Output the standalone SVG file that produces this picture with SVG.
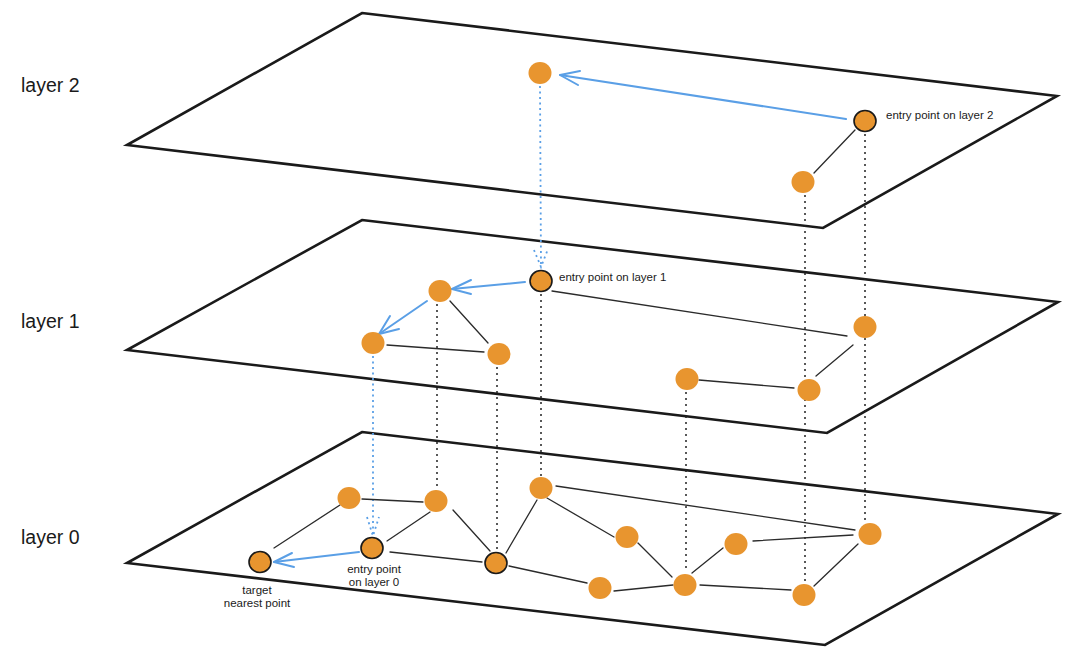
<svg xmlns="http://www.w3.org/2000/svg" width="1080" height="666" viewBox="0 0 1080 666">
<style>
.plane{fill:none;stroke:#1a1a1a;stroke-width:2.6;stroke-linejoin:miter}
.edge{stroke:#2b2b2b;stroke-width:1.3;fill:none;stroke-linecap:round}
.dot{stroke:#222;stroke-width:1.5;stroke-dasharray:2 4;fill:none}
.bdot{stroke:#5a9fe6;stroke-width:1.8;stroke-dasharray:2 3.5;fill:none}
.blue{stroke:#5a9fe6;stroke-width:2;fill:none;stroke-linecap:round;stroke-linejoin:round}
.n{fill:#e8952f}
.ns{fill:#e8952f;stroke:#1a1a1a;stroke-width:1.6}
.big{font-family:"Liberation Sans",Arial,sans-serif;font-size:19.5px;fill:#1a1a1a}
.sm{font-family:"Liberation Sans",Arial,sans-serif;font-size:11.5px;fill:#1a1a1a}
</style>
<rect width="1080" height="666" fill="#ffffff"/>

<g id="planes">
<polygon class="plane" points="362,13 1057,96 823,228 127,145"/>
<polygon class="plane" points="362,220 1058,302 827,433 127,350"/>
<polygon class="plane" points="362,432 1058,514 825,645 127,563"/>
</g>

<g id="labels">
<text class="big" x="21" y="92">layer 2</text>
<text class="big" x="21" y="328">layer 1</text>
<text class="big" x="21" y="544">layer 0</text>
</g>

<g id="connectors">
<line class="dot" x1="805" y1="195" x2="805" y2="583"/>
<line class="dot" x1="865" y1="134" x2="865" y2="522"/>
<line class="dot" x1="541" y1="294" x2="541" y2="476"/>
<line class="dot" x1="437" y1="304" x2="437" y2="488"/>
<line class="dot" x1="497" y1="367" x2="497" y2="550"/>
<line class="dot" x1="686" y1="392" x2="686" y2="572"/>
<line class="bdot" x1="540" y1="86" x2="541" y2="266"/>
<polyline class="bdot" points="534,250 541,267 548,249"/>
<line class="bdot" x1="373" y1="356" x2="373" y2="536"/>
<polyline class="bdot" points="367,517 373,536 379,517"/>
<line class="edge" x1="855" y1="130" x2="814" y2="173"/>
<line class="blue" x1="846" y1="119" x2="560" y2="75"/>
<polyline class="blue" points="580,71 560,75 578,85"/>
<line class="edge" x1="552" y1="291" x2="847" y2="336"/>
<line class="edge" x1="853" y1="345" x2="816" y2="376"/>
<line class="edge" x1="699" y1="380" x2="794" y2="388"/>
<line class="edge" x1="450" y1="301" x2="488" y2="343"/>
<line class="edge" x1="387" y1="345" x2="484" y2="352"/>
<line class="blue" x1="525" y1="282" x2="452" y2="289"/>
<polyline class="blue" points="471,280 452,289 471,294"/>
<line class="blue" x1="427" y1="301" x2="379" y2="334"/>
<polyline class="blue" points="390,316 379,334 399,329"/>
<line class="edge" x1="274" y1="548" x2="340" y2="505"/>
<line class="edge" x1="362" y1="499" x2="423" y2="502"/>
<line class="edge" x1="387" y1="541" x2="430" y2="512"/>
<line class="edge" x1="390" y1="552" x2="482" y2="562"/>
<line class="edge" x1="453" y1="510" x2="490" y2="551"/>
<line class="edge" x1="506" y1="553" x2="537" y2="500"/>
<line class="edge" x1="509" y1="566" x2="587" y2="583"/>
<line class="edge" x1="547" y1="498" x2="614" y2="537"/>
<line class="edge" x1="556" y1="486" x2="855" y2="530"/>
<line class="edge" x1="638" y1="543" x2="672" y2="577"/>
<line class="edge" x1="614" y1="591" x2="673" y2="585"/>
<line class="edge" x1="692" y1="573" x2="723" y2="548"/>
<line class="edge" x1="753" y1="541" x2="853" y2="535"/>
<line class="edge" x1="700" y1="585" x2="791" y2="590"/>
<line class="edge" x1="858" y1="544" x2="814" y2="586"/>
<line class="blue" x1="359" y1="552" x2="274" y2="562"/>
<polyline class="blue" points="292,553 274,562 294,567"/>
</g>

<g id="layer2-nodes">
<g id="n2a"><ellipse class="n" cx="540" cy="73" rx="11.5" ry="11"/></g>
<g id="n2entry"><ellipse class="ns" cx="865" cy="121" rx="11" ry="10.5"/>
<text class="sm" x="886" y="119">entry point on layer 2</text></g>
<g id="n2c"><ellipse class="n" cx="803" cy="182" rx="11.5" ry="11"/></g>
</g>

<g id="layer1-nodes">
<g id="n1entry"><ellipse class="ns" cx="541" cy="281" rx="11" ry="10.5"/>
<text class="sm" x="559" y="281">entry point on layer 1</text></g>
<g id="n1b"><ellipse class="n" cx="440" cy="291" rx="11.5" ry="11"/></g>
<g id="n1c"><ellipse class="n" cx="373" cy="343" rx="11.5" ry="11"/></g>
<g id="n1d"><ellipse class="n" cx="499" cy="354" rx="11.5" ry="11"/></g>
<g id="n1f"><ellipse class="n" cx="865" cy="327" rx="11.5" ry="11"/></g>
<g id="n1g"><ellipse class="n" cx="687" cy="379" rx="11.5" ry="11"/></g>
<g id="n1h"><ellipse class="n" cx="809" cy="390" rx="11.5" ry="11"/></g>
</g>

<g id="layer0-nodes">
<g id="n0target"><ellipse class="ns" cx="260" cy="562" rx="11" ry="10.5"/>
<text class="sm" text-anchor="middle" x="257" y="594">target</text>
<text class="sm" text-anchor="middle" x="257" y="607">nearest point</text></g>
<g id="n0entry"><ellipse class="ns" cx="372" cy="548" rx="11" ry="10.5"/>
<text class="sm" text-anchor="middle" x="374" y="573">entry point</text>
<text class="sm" text-anchor="middle" x="374" y="586">on layer 0</text></g>
<g id="n0a"><ellipse class="n" cx="349" cy="498" rx="11.5" ry="11"/></g>
<g id="n0b"><ellipse class="n" cx="436" cy="501" rx="11.5" ry="11"/></g>
<g id="n0c"><ellipse class="ns" cx="496" cy="563" rx="11" ry="10.5"/></g>
<g id="n0d"><ellipse class="n" cx="541" cy="488" rx="11.5" ry="11"/></g>
<g id="n0e"><ellipse class="n" cx="627" cy="537" rx="11.5" ry="11"/></g>
<g id="n0f"><ellipse class="n" cx="600" cy="588" rx="11.5" ry="11"/></g>
<g id="n0g"><ellipse class="n" cx="685" cy="585" rx="11.5" ry="11"/></g>
<g id="n0h"><ellipse class="n" cx="736" cy="544" rx="11.5" ry="11"/></g>
<g id="n0i"><ellipse class="n" cx="870" cy="534" rx="11.5" ry="11"/></g>
<g id="n0j"><ellipse class="n" cx="804" cy="595" rx="11.5" ry="11"/></g>
</g>
</svg>
